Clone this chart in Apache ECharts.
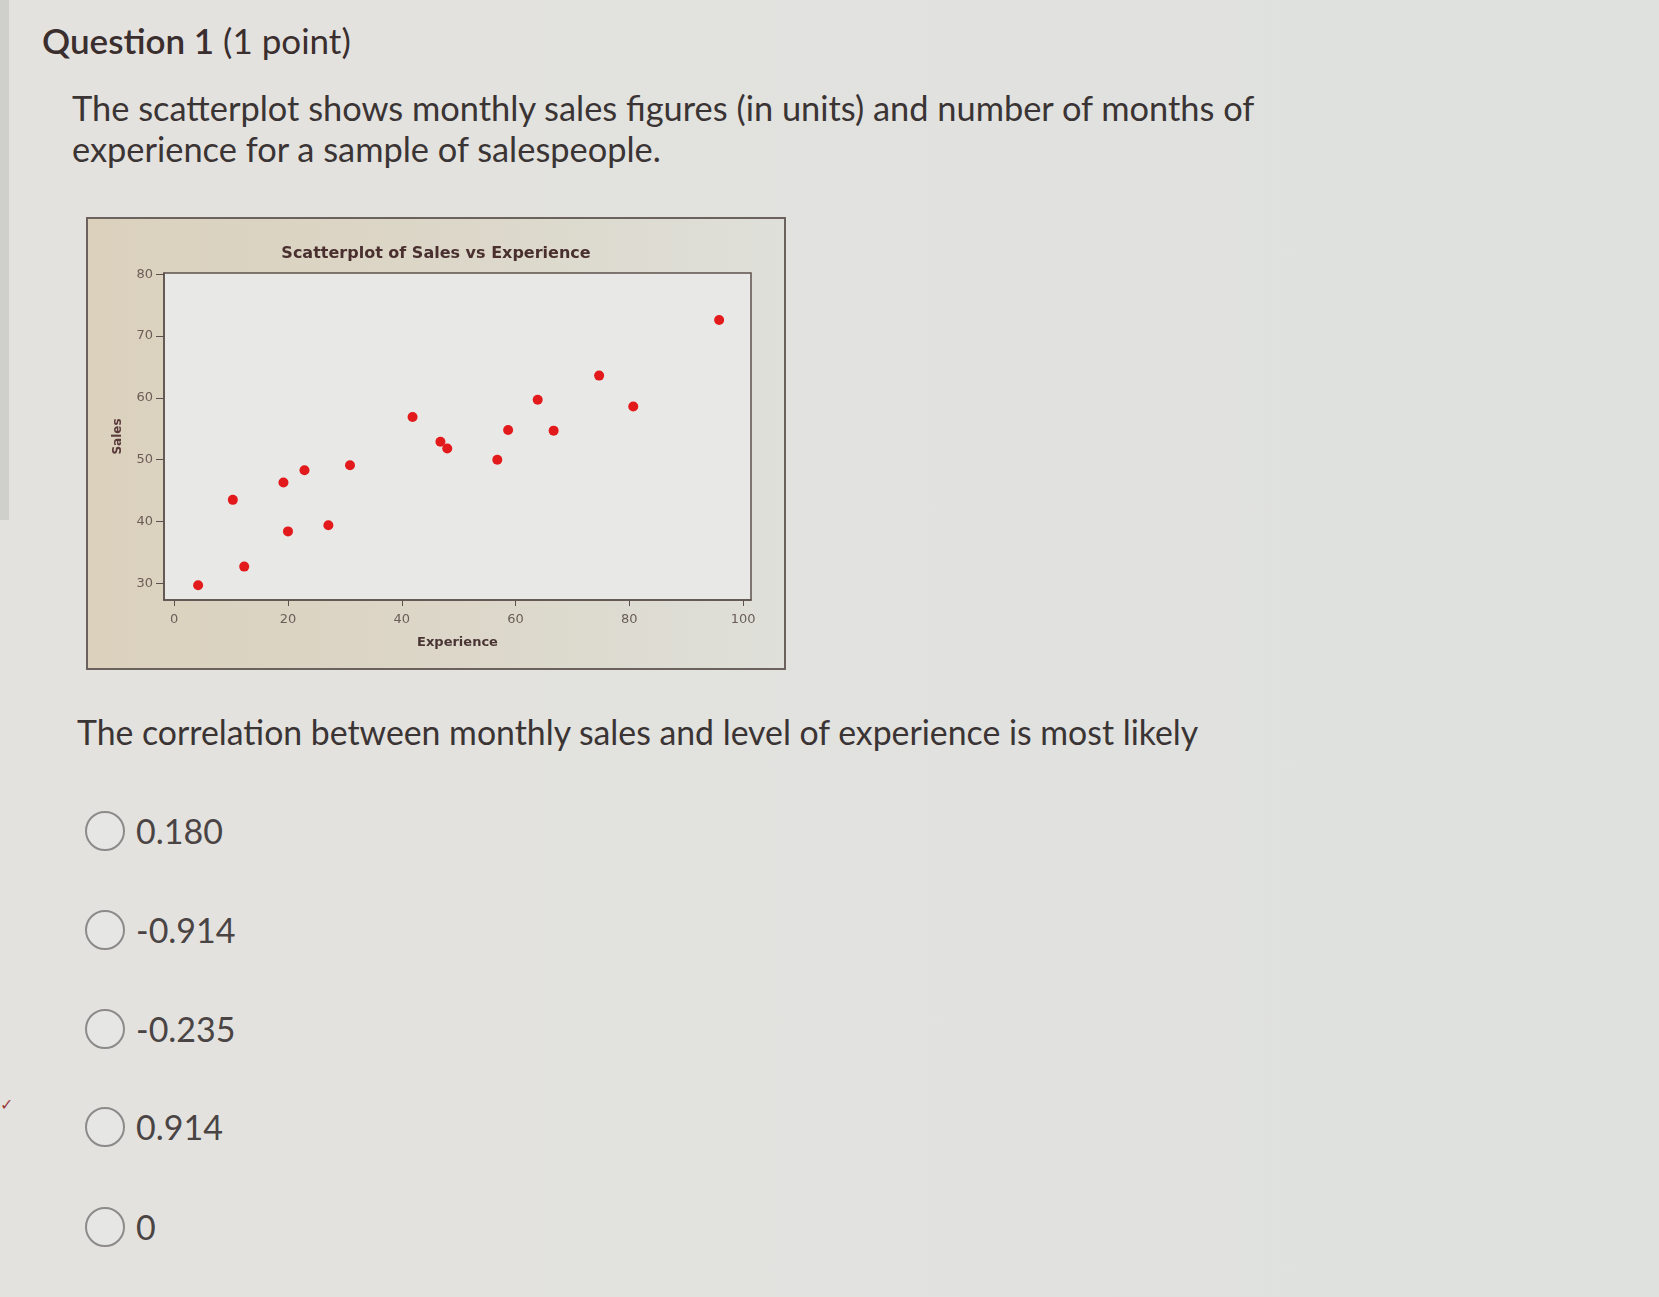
<!DOCTYPE html>
<html style="height: 100%">
<head>
    <meta charset="utf-8">
    <style>
        body { margin: 0; width: 1659px; height: 1297px; position: relative; overflow: hidden;
               background: linear-gradient(90deg, #e4e2de 0%, #e1e2df 60%, #dfe1de 100%);
               font-family: Lato, "Open Sans", sans-serif; color: #3b3434; }
        .strip { position: absolute; left: 0; top: 0; width: 9px; height: 520px; background: #cfcfcc; }
        .txt { position: absolute; white-space: nowrap; }
        .radio { position: absolute; width: 36px; height: 36px; border: 2px solid #8c8a8a; border-radius: 50%; background: #e6e6e4; }
        .opt { position: absolute; font-size: 34px; line-height: 40px; color: #4a4444; }
    </style>
</head>
<body>
    <div class="strip"></div>
    <div class="txt" style="left:0px; top:1094px; font-size:16px; color:#9a3b3b;">&#10003;</div>

    <div class="txt" style="left:42px; top:19px; font-size:35px; line-height:42px; color:#3a2e2e;">
        <span style="font-weight:600">Question 1</span> (1 point)</div>
    <div class="txt" style="left:72px; top:87px; font-size:34.4px; line-height:41px;">
        The scatterplot shows monthly sales figures (in units) and number of months of<br>experience for a sample of salespeople.</div>

    <div id="container" style="position:absolute; left:86px; top:217px; width:700px; height:453px; box-sizing:border-box;
         border:2px solid #6b625e; background: linear-gradient(90deg, #dbd1bd 0%, #dcd7c9 55%, #dfe0da 100%);"></div>

    <div class="txt" style="left:77px; top:712px; font-size:33.8px; line-height:41px;">
        The correlation between monthly sales and level of experience is most likely</div>

    <div id="options"></div>

    <script type="text/javascript" src="https://cdn.jsdelivr.net/npm/echarts@6.0.0/dist/echarts.min.js"></script>
    <script type="text/javascript">
        // months of experience, monthly sales
        var experience = [4.2, 10.3, 12.3, 19.2, 20.0, 22.9, 27.1, 30.9, 41.9, 46.8, 48.0, 56.8, 58.7, 63.9, 66.7, 74.7, 80.7, 95.8];
        var sales = [29.7, 43.5, 32.7, 46.3, 38.4, 48.3, 39.4, 49.1, 56.9, 52.9, 51.8, 50.0, 54.8, 59.7, 54.7, 63.6, 58.6, 72.6];
        var xTicks = [0, 20, 40, 60, 80, 100];
        var yTicks = [30, 40, 50, 60, 70, 80];
        var answers = ['0.180', '-0.914', '-0.235', '0.914', '0'];
        var answerY = [831, 930, 1029, 1127, 1227];

        // answer choices
        var box = document.getElementById('options');
        answers.forEach(function (a, i) {
            var r = document.createElement('div');
            r.className = 'radio';
            r.style.left = (105 - 20) + 'px';
            r.style.top = (answerY[i] - 20) + 'px';
            box.appendChild(r);
            var t = document.createElement('div');
            t.className = 'opt';
            t.style.left = '136px';
            t.style.top = (answerY[i] - 20) + 'px';
            t.textContent = a;
            box.appendChild(t);
        });

        var points = experience.map(function (x, i) { return [x, sales[i]]; });

        var myChart = echarts.init(document.getElementById('container'));
        var axisColor = '#5e514d';
        var labelColor = '#6a5d58';
        // container content starts at (88, 219); plot box spans x 164..751, y 273..600
        var option = {
            animation: false,
            textStyle: { fontFamily: 'DejaVu Sans' },
            title: {
                text: 'Scatterplot of Sales vs Experience',
                left: 'center',
                top: 22,
                textStyle: { fontFamily: 'DejaVu Sans', fontSize: 16, fontWeight: 'bold', color: '#4a2f2f' }
            },
            grid: {
                left: 76, top: 54, width: 587, height: 327,
                show: true, borderColor: axisColor, borderWidth: 1.5, backgroundColor: '#e8e8e6'
            },
            xAxis: {
                type: 'value',
                min: -1.8, max: 101.4,
                name: 'Experience',
                nameLocation: 'middle',
                nameGap: 36,
                nameTextStyle: { fontFamily: 'DejaVu Sans', fontSize: 13, fontWeight: 'bold', color: '#4a3535' },
                axisLine: { show: true, onZero: false, lineStyle: { color: axisColor, width: 1.5 } },
                axisTick: { show: true, length: 6, customValues: xTicks, lineStyle: { color: axisColor } },
                axisLabel: { customValues: xTicks, color: labelColor, fontSize: 13, margin: 13 },
                splitLine: { show: false }
            },
            yAxis: {
                type: 'value',
                min: 27.3, max: 80.2,
                name: 'Sales',
                nameLocation: 'middle',
                nameGap: 40,
                nameRotate: 90,
                nameTextStyle: { fontFamily: 'DejaVu Sans', fontSize: 12, fontWeight: 'bold', color: '#5a3a3a' },
                axisLine: { show: true, onZero: false, lineStyle: { color: axisColor, width: 1.5 } },
                axisTick: { show: true, length: 8, customValues: yTicks, lineStyle: { color: axisColor } },
                axisLabel: { customValues: yTicks, color: labelColor, fontSize: 13, margin: 11 },
                splitLine: { show: false }
            },
            series: [{
                type: 'scatter',
                data: points,
                symbolSize: 10,
                itemStyle: { color: '#e31a1c', opacity: 1 }
            }]
        };
        myChart.setOption(option);
    </script>
</body>
</html>
